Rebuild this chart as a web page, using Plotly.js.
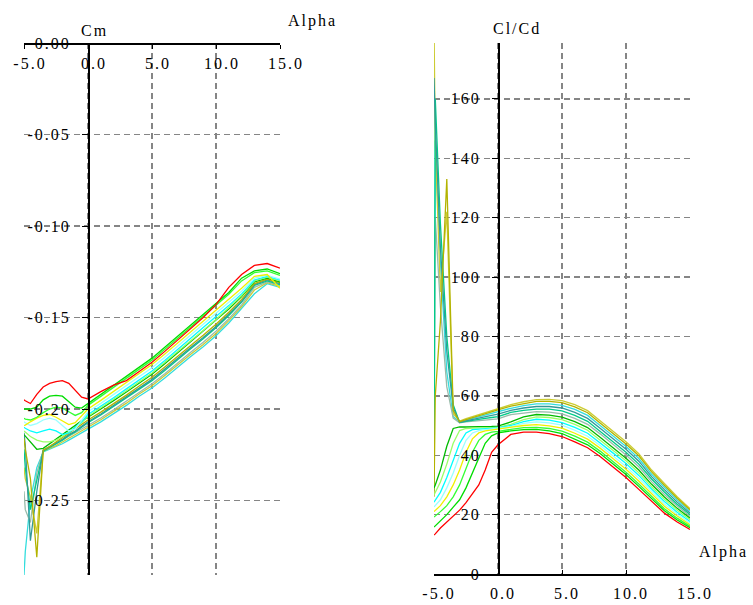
<!DOCTYPE html>
<html>
<head>
<meta charset="utf-8">
<script src="https://cdn.plot.ly/plotly-3.0.1.min.js"></script>
<style>
html,body{margin:0;padding:0;background:#fff;}
#chart .main-svg text{letter-spacing:2px;}
</style>
</head>
<body>
<div id="chart" style="width:753px;height:605px;"></div>
<script>
// ---------------- DATA ----------------
const alpha = [-5,-4.9,-4.5,-4,-3.5,-3,-2.5,-2,-1.5,-1,-0.5,0,1,2,3,4,5,6,7,8,9,10,11,12,13,14,15];

const curveColors = ['#ff0000','#00dd00','#33ff33','#f0f000','#99ffff','#00ffff','#99ff66',
                     '#00bb00','#b3b300','#339999','#00cc88','#99bbaa','#cccc33','#33dddd'];

// Cm vs alpha
const cm0  = [-0.195,-0.1955,-0.197,-0.192,-0.188,-0.186,-0.185,-0.1845,-0.186,-0.190,-0.1935,-0.1945,-0.1905,-0.187,-0.1845,-0.1795,-0.1745,-0.1685,-0.1625,-0.1565,-0.150,-0.143,-0.1335,-0.1265,-0.1215,-0.1205,-0.123];
const cm1  = [-0.200,-0.200,-0.200,-0.199,-0.195,-0.193,-0.1925,-0.193,-0.196,-0.199,-0.1995,-0.197,-0.1921,-0.1872,-0.1822,-0.1772,-0.1722,-0.1663,-0.1603,-0.1543,-0.1483,-0.1423,-0.1363,-0.1285,-0.1245,-0.1235,-0.126];
const cm2  = [-0.205,-0.2055,-0.206,-0.2045,-0.202,-0.200,-0.199,-0.1995,-0.2015,-0.2035,-0.202,-0.198,-0.1931,-0.1881,-0.1832,-0.1782,-0.1733,-0.1673,-0.1613,-0.1554,-0.1495,-0.1435,-0.1373,-0.130,-0.1255,-0.1245,-0.127];
const cm3  = [-0.209,-0.2088,-0.207,-0.205,-0.2035,-0.203,-0.2045,-0.2065,-0.2085,-0.2075,-0.204,-0.200,-0.1953,-0.1905,-0.1856,-0.1806,-0.1757,-0.1699,-0.1639,-0.158,-0.1521,-0.1461,-0.1399,-0.134,-0.1275,-0.1265,-0.134];
const cm4  = [-0.207,-0.2075,-0.209,-0.208,-0.206,-0.205,-0.206,-0.209,-0.212,-0.211,-0.2065,-0.2015,-0.1969,-0.1921,-0.1873,-0.1823,-0.1775,-0.1717,-0.1657,-0.1598,-0.154,-0.148,-0.1417,-0.1356,-0.1285,-0.127,-0.129];
const cm5  = [-0.210,-0.2105,-0.212,-0.213,-0.212,-0.211,-0.212,-0.214,-0.213,-0.210,-0.207,-0.203,-0.1985,-0.1938,-0.189,-0.184,-0.1792,-0.1735,-0.1675,-0.1617,-0.1559,-0.1499,-0.1435,-0.1371,-0.1295,-0.1275,-0.1295];
const cm6  = [-0.212,-0.2125,-0.215,-0.217,-0.218,-0.218,-0.217,-0.215,-0.2125,-0.210,-0.2075,-0.204,-0.1995,-0.1947,-0.190,-0.185,-0.1803,-0.1745,-0.1685,-0.1628,-0.1571,-0.1511,-0.1445,-0.138,-0.130,-0.128,-0.130];
const cm7  = [-0.214,-0.2148,-0.2185,-0.222,-0.2215,-0.219,-0.2165,-0.214,-0.2115,-0.209,-0.2065,-0.2045,-0.2001,-0.1954,-0.1907,-0.1857,-0.181,-0.1753,-0.1693,-0.1635,-0.1578,-0.1518,-0.1453,-0.1386,-0.1305,-0.1285,-0.1305];
const cm8  = [-0.216,-0.222,-0.238,-0.281,-0.2225,-0.2205,-0.218,-0.2155,-0.213,-0.211,-0.2085,-0.206,-0.2017,-0.1971,-0.1924,-0.1874,-0.1827,-0.1771,-0.1711,-0.1654,-0.1597,-0.1537,-0.1471,-0.1401,-0.1315,-0.129,-0.131];
const cm9  = [-0.213,-0.220,-0.272,-0.245,-0.2225,-0.2205,-0.2185,-0.2165,-0.214,-0.212,-0.2095,-0.207,-0.2027,-0.198,-0.1934,-0.1884,-0.1838,-0.1781,-0.1721,-0.1665,-0.1609,-0.1549,-0.1481,-0.141,-0.132,-0.1295,-0.1315];
const cm10 = [-0.222,-0.232,-0.255,-0.238,-0.223,-0.221,-0.219,-0.217,-0.2145,-0.2125,-0.210,-0.2075,-0.2033,-0.1987,-0.1941,-0.1891,-0.1845,-0.1789,-0.1729,-0.1672,-0.1616,-0.1556,-0.1489,-0.1416,-0.1325,-0.130,-0.132];
const cm11 = [-0.245,-0.255,-0.262,-0.235,-0.2225,-0.221,-0.219,-0.217,-0.215,-0.213,-0.211,-0.209,-0.2049,-0.2004,-0.1958,-0.1908,-0.1862,-0.1807,-0.1747,-0.1691,-0.1635,-0.1575,-0.1507,-0.1431,-0.1335,-0.1305,-0.1325];
const cm12 = [-0.232,-0.238,-0.248,-0.268,-0.223,-0.2215,-0.220,-0.218,-0.216,-0.214,-0.212,-0.210,-0.2059,-0.2013,-0.1968,-0.1918,-0.1873,-0.1817,-0.1757,-0.1702,-0.1647,-0.1587,-0.1517,-0.144,-0.135,-0.131,-0.133];
const cm13 = [-0.291,-0.278,-0.250,-0.232,-0.2235,-0.222,-0.2205,-0.219,-0.217,-0.215,-0.213,-0.211,-0.207,-0.2025,-0.198,-0.193,-0.1885,-0.183,-0.177,-0.1715,-0.166,-0.160,-0.153,-0.145,-0.137,-0.1315,-0.1335];

// Cl/Cd vs alpha
const ld0  = [13.1,13.5,15.5,17.5,19.5,21.5,24,27,30,35,41,43.5,47,47.8,47.8,47.3,46.3,44.5,42.5,39.5,36,32.5,28.5,24.5,20.5,17.5,15];
const ld1  = [15.8,16.2,18,20,22.5,25,29,34,39.5,44,46.5,47.5,48.2,48.6,48.7,48.2,47.3,45.5,43.5,40.5,37.0,33.5,29.5,25.3,21.3,18.2,15.6];
const ld2  = [19.2,19.5,21,23,26,30,35.5,41,45,47,47.8,48,48.7,49.3,49.4,49.0,48.1,46.4,44.4,41.3,37.8,34.3,30.3,26.1,22.0,18.8,16.05];
const ld3  = [21,21.4,23,26,30,35,41,45.5,47.5,48.2,48.5,48.6,49.2,50.0,50.3,49.9,49.1,47.4,45.4,42.3,38.8,35.3,31.3,26.9,22.8,19.5,16.6];
const ld4  = [22.6,23.1,25,29,34,40,45,47.5,48.3,48.6,48.8,49,49.6,50.7,51.2,50.9,50.1,48.4,46.4,43.2,39.7,36.2,32.2,27.8,23.6,20.1,17.2];
const ld5  = [24.2,24.8,27.5,32.5,38.5,44,47.5,48.6,48.8,49,49.1,49.2,50.0,51.3,52.1,51.8,51.0,49.4,47.4,44.2,40.7,37.2,33.2,28.6,24.4,20.8,17.7];
const ld6  = [26.6,27.4,31,37,44,48.3,49,49.1,49.2,49.2,49.3,49.4,50.4,52.0,52.9,52.7,52.0,50.4,48.4,45.1,41.6,38.1,34.1,29.4,25.2,21.5,18.3];
const ld7  = [29,30,35,43,49,49.5,49.5,49.5,49.6,49.6,49.7,49.8,51.2,52.9,53.7,53.5,52.8,51.3,49.3,46.0,42.5,39.0,35.0,30.2,25.9,22.1,18.8];
const ld8  = [26,60,85,133,55,51.3,52,52.7,53.4,54,54.7,55.3,56.5,57.4,58.1,58.1,57.7,56.3,54.3,50.8,47.3,43.8,39.8,34.4,29.9,25.5,21.6];
const ld9  = [167,152,110,75,56,51.1,51.6,52.1,52.5,52.9,53.4,53.8,55.1,55.9,56.4,56.4,55.9,54.4,52.4,49.0,45.5,42.0,38.0,32.8,28.4,24.2,20.5];
const ld10 = [28,160,118,80,57,51,51.4,51.8,52.1,52.4,52.7,53.0,54.4,55.1,55.5,55.5,54.9,53.4,51.4,48.0,44.5,41.0,37.0,32.0,27.6,23.5,20.0];
const ld11 = [32,120,90,63,52.5,50.9,51.2,51.4,51.6,51.8,52.0,52.2,53.7,54.3,54.7,54.5,53.9,52.4,50.4,47.1,43.6,40.1,36.1,31.1,26.8,22.9,19.4];
const ld12 = [185,145,95,122,54,51.5,52.3,53,53.7,54.4,55.1,55.8,57,58,58.7,58.8,58.4,57,55,51.5,48,44.5,40.5,35,30.5,26,22];
const ld13 = [35,146,105,68,53,51.2,51.8,52.4,53,53.5,54.1,54.6,55.8,56.7,57.3,57.3,56.8,55.4,53.4,49.9,46.4,42.9,38.9,33.6,29.2,24.9,21.1];

// Ticks
const alphaTicks = [-5,0,5,10,15];
const alphaTickText = ['-5.0','0.0','5.0','10.0','15.0'];
const cmTicks = [0,-0.05,-0.10,-0.15,-0.20,-0.25];
const cmTickText = ['0.00','-0.05','-0.10','-0.15','-0.20','-0.25'];
const ldTicks = [0,20,40,60,80,100,120,140,160];
const ldTickText = ['0','20','40','60','80','100','120','140','160'];

const cmSeries = [cm0,cm1,cm2,cm3,cm4,cm5,cm6,cm7,cm8,cm9,cm10,cm11,cm12,cm13];
const ldSeries = [ld0,ld1,ld2,ld3,ld4,ld5,ld6,ld7,ld8,ld9,ld10,ld11,ld12,ld13];

// ---------------- LAYOUT ----------------
const W = 753, H = 605;
const xDomL = [24/W, 280/W];
const xDomR = [434/W, 690/W];
const yDomL = [1-575/H, 1-43/H];
const yDomR = [1-574/H, 1-43/H];
const xRange = [-5,15];
const zeroPos = d => d[0] + (0 - xRange[0])/(xRange[1]-xRange[0])*(d[1]-d[0]);

const traces = [];
for (let i = cmSeries.length-1; i >= 0; i--) {
  traces.push({x: alpha, y: cmSeries[i], xaxis:'x', yaxis:'y', mode:'lines',
    line:{color: curveColors[i], width:1.3}, hoverinfo:'skip'});
  traces.push({x: alpha, y: ldSeries[i], xaxis:'x2', yaxis:'y2', mode:'lines',
    line:{color: curveColors[i], width:1.3}, hoverinfo:'skip'});
}

const gridStyle = {showgrid:true, gridcolor:'#858585', griddash:'6px,4px', gridwidth:1.4,
  zeroline:false, showline:true, linecolor:'#000', linewidth:1.6, tickcolor:'#000', fixedrange:true};
const tf = {family:'Liberation Serif, serif', size:16, color:'#000'};

const layout = {
  width: W, height: H,
  margin:{l:0,r:0,t:0,b:0},
  paper_bgcolor:'#fff', plot_bgcolor:'#fff',
  showlegend:false,
  font: tf,
  // Cm plot: alpha axis drawn at Cm = 0 (the top edge), labels below the line
  xaxis: Object.assign({}, gridStyle, {domain:xDomL, range:xRange, anchor:'free', position:yDomL[1], side:'bottom',
    tickmode:'array', tickvals:alphaTicks, ticktext:alphaTickText, ticks:'outside', ticklen:4,
    ticklabelshift:6, ticklabelstandoff:1, tickfont:tf}),
  yaxis: Object.assign({}, gridStyle, {domain:yDomL, range:[-0.2907,0], anchor:'free',
    position: zeroPos(xDomL), side:'left', tickmode:'array', tickvals:cmTicks, ticktext:cmTickText,
    ticks:'outside', ticklen:6, ticklabelstandoff:8, tickfont:tf}),
  xaxis2: Object.assign({}, gridStyle, {domain:xDomR, range:xRange, anchor:'y2', side:'bottom',
    tickmode:'array', tickvals:alphaTicks, ticktext:alphaTickText, ticks:'inside', ticklen:4,
    ticklabelshift:5, ticklabelstandoff:4, tickfont:tf}),
  yaxis2: Object.assign({}, gridStyle, {domain:yDomR, range:[0,178.8], anchor:'free',
    position: zeroPos(xDomR), side:'left', tickmode:'array', tickvals:ldTicks, ticktext:ldTickText,
    ticks:'outside', ticklen:6, ticklabelstandoff:8, tickfont:tf}),
  annotations: [
    {text:'Cm', x:95/W, y:1-30/H, xref:'paper', yref:'paper', showarrow:false, xanchor:'center', yanchor:'middle', font:tf},
    {text:'Alpha', x:312/W, y:1-21/H, xref:'paper', yref:'paper', showarrow:false, xanchor:'center', yanchor:'middle', font:tf},
    {text:'Cl/Cd', x:517/W, y:1-29/H, xref:'paper', yref:'paper', showarrow:false, xanchor:'center', yanchor:'middle', font:tf},
    {text:'Alpha', x:723/W, y:1-552/H, xref:'paper', yref:'paper', showarrow:false, xanchor:'center', yanchor:'middle', font:tf}
  ]
};

Plotly.newPlot('chart', traces, layout, {staticPlot:true, displayModeBar:false});
</script>
</body>
</html>
